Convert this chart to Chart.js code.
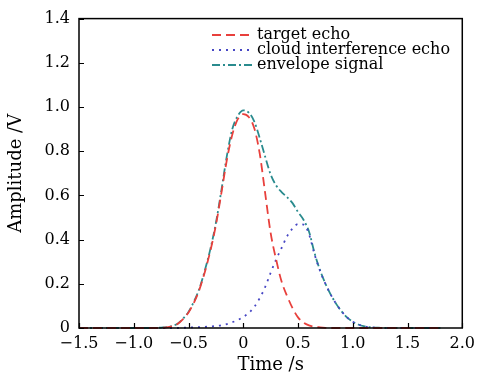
<!DOCTYPE html>
<html>
<head>
<meta charset="utf-8">
<title>Echo signals</title>
<script src="https://cdn.jsdelivr.net/npm/chart.js@4/dist/chart.umd.min.js"></script>
<style>
  body { margin: 0; background: #fff; }
  canvas { display: block; }
</style>
</head>
<body>
<canvas id="myChart" width="481" height="379"></canvas>
<script>
'use strict';
// time axis, step 0.05 s
let timeValues = [
    -1.5, -1.45, -1.4, -1.35, -1.3, -1.25, -1.2, -1.15, -1.1, -1.05,
    -1.0, -0.95, -0.9, -0.85, -0.8, -0.75, -0.7, -0.65, -0.6, -0.55,
    -0.5, -0.45, -0.4, -0.35, -0.3, -0.25, -0.2, -0.15, -0.1, -0.05,
    0, 0.05, 0.1, 0.15, 0.2, 0.25, 0.3, 0.35, 0.4, 0.45,
    0.5, 0.55, 0.6, 0.65, 0.7, 0.75, 0.8, 0.85, 0.9, 0.95,
    1.0, 1.05, 1.1, 1.15, 1.2, 1.25, 1.3, 1.35, 1.4, 1.45,
    1.5, 1.55, 1.6, 1.65, 1.7, 1.75, 1.8];

let targetEcho = [
    0, 0, 0, 0, 0, 0, 0, 0, 0, 0,
    0, 0, 0, 0, 0, 0.001, 0.003, 0.008, 0.018, 0.04,
    0.07, 0.115, 0.175, 0.255, 0.35, 0.465, 0.61, 0.76, 0.875, 0.945,
    0.968, 0.955, 0.905, 0.79, 0.61, 0.43, 0.31, 0.21, 0.145, 0.09,
    0.048, 0.024, 0.012, 0.006, 0.003, 0.001, 0, 0, 0, 0,
    0, 0, 0, 0, 0, 0, 0, 0, 0, 0,
    0, 0, 0, 0, 0, 0, 0];

let cloudEcho = [
    0, 0, 0, 0, 0, 0, 0, 0, 0, 0,
    0, 0, 0, 0, 0, 0, 0, 0, 0, 0.001,
    0.002, 0.003, 0.004, 0.005, 0.007, 0.009, 0.012, 0.018, 0.026, 0.036,
    0.05, 0.068, 0.095, 0.135, 0.185, 0.25, 0.31, 0.362, 0.415, 0.45,
    0.47, 0.468, 0.425, 0.335, 0.26, 0.2, 0.15, 0.108, 0.074, 0.047,
    0.028, 0.016, 0.008, 0.004, 0.002, 0.001, 0, 0, 0, 0,
    0, 0, 0, 0, 0, 0, 0];

let envelopeSignal = [
    0, 0, 0, 0, 0, 0, 0, 0, 0, 0,
    0, 0, 0, 0, 0, 0.002, 0.004, 0.009, 0.019, 0.042,
    0.073, 0.12, 0.18, 0.262, 0.358, 0.475, 0.622, 0.778, 0.9, 0.96,
    0.985, 0.975, 0.935, 0.86, 0.775, 0.695, 0.645, 0.615, 0.592, 0.565,
    0.525, 0.49, 0.437, 0.341, 0.263, 0.201, 0.15, 0.108, 0.074, 0.047,
    0.028, 0.016, 0.008, 0.004, 0.002, 0.001, 0, 0, 0, 0,
    0, 0, 0, 0, 0, 0, 0];

let seriesNames = ['target echo', 'cloud interference echo', 'envelope signal'];
let seriesColors = ['#e8403c', '#4646c4', '#2a8b8e'];
let seriesDash = [[9, 5], [2, 5], [8, 3, 2, 3]];

let serifFont = 'DejaVu Serif';

function toPoints(values) {
    let pts = [];
    for (let i = 0; i < timeValues.length; i++) {
        pts.push({ x: timeValues[i], y: values[i] });
    }
    return pts;
}

function fmtTick(v) {
    if (Math.abs(v) < 1e-9) {
        return '0';
    }
    let s = Math.abs(v).toFixed(1);
    return v < 0 ? '\u2212' + s : s;
}

// frame, inward ticks and the legend
let framePlugin = {
    id: 'frame',
    afterDraw(chart) {
        let ctx = chart.ctx;
        let area = chart.chartArea;
        let xs = chart.scales.x;
        let ys = chart.scales.y;
        ctx.save();
        ctx.strokeStyle = '#000';
        ctx.lineWidth = 1.5;
        ctx.setLineDash([]);
        ctx.strokeRect(area.left, area.top, area.right - area.left, area.bottom - area.top);

        ctx.lineWidth = 1.2;
        ctx.beginPath();
        xs.ticks.forEach(function (t) {
            let px = Math.round(xs.getPixelForValue(t.value)) + 0.5;
            ctx.moveTo(px, area.bottom);
            ctx.lineTo(px, area.bottom - 5);
        });
        ys.ticks.forEach(function (t) {
            let py = Math.round(ys.getPixelForValue(t.value)) + 0.5;
            ctx.moveTo(area.left, py);
            ctx.lineTo(area.left + 5, py);
        });
        ctx.stroke();

        // legend
        ctx.font = '16px "' + serifFont + '"';
        ctx.textBaseline = 'middle';
        ctx.textAlign = 'left';
        for (let i = 0; i < chart.data.datasets.length; i++) {
            let ds = chart.data.datasets[i];
            let y = 35 + i * 15;
            ctx.strokeStyle = ds.borderColor;
            ctx.lineWidth = 1.8;
            ctx.setLineDash(ds.borderDash);
            ctx.beginPath();
            ctx.moveTo(212, y);
            ctx.lineTo(253, y);
            ctx.stroke();
            ctx.setLineDash([]);
            ctx.fillStyle = '#000';
            ctx.fillText(ds.label, 257, y);
        }
        ctx.restore();
    }
};

let seriesValues = [targetEcho, cloudEcho, envelopeSignal];
let datasets = [];
for (let i = 0; i < seriesNames.length; i++) {
    datasets.push({
        label: seriesNames[i],
        data: toPoints(seriesValues[i]),
        borderColor: seriesColors[i],
        borderDash: seriesDash[i],
        borderWidth: 1.8,
        pointRadius: 0,
        fill: false,
        cubicInterpolationMode: 'monotone',
        clip: 3
    });
}

let ctx = document.getElementById('myChart').getContext('2d');
let myChart = new Chart(ctx, {
    type: 'line',
    data: { datasets: datasets },
    plugins: [framePlugin],
    options: {
        responsive: false,
        animation: false,
        devicePixelRatio: 1,
        layout: { padding: { left: 0, top: 14, right: 14, bottom: 0 } },
        plugins: {
            legend: { display: false },
            tooltip: { enabled: false }
        },
        scales: {
            x: {
                type: 'linear',
                min: -1.5,
                max: 2.0,
                grid: { display: false, drawTicks: false },
                border: { display: false },
                ticks: {
                    stepSize: 0.5,
                    maxRotation: 0,
                    padding: 6,
                    color: '#000',
                    font: { family: serifFont, size: 16 },
                    callback: fmtTick
                },
                title: {
                    display: true,
                    text: 'Time /s',
                    color: '#000',
                    font: { family: serifFont, size: 18 },
                    padding: { top: 0, bottom: 3 }
                },
                afterFit: function (scale) { scale.height = 51; }
            },
            y: {
                min: 0,
                max: 1.4,
                grid: { display: false, drawTicks: false },
                border: { display: false },
                ticks: {
                    stepSize: 0.2,
                    padding: 9,
                    color: '#000',
                    font: { family: serifFont, size: 16 },
                    callback: fmtTick
                },
                title: {
                    display: true,
                    text: 'Amplitude /V',
                    color: '#000',
                    font: { family: serifFont, size: 18 },
                    padding: { top: 6, bottom: 0 }
                },
                afterFit: function (scale) { scale.width = 79; }
            }
        }
    }
});
</script>
</body>
</html>
